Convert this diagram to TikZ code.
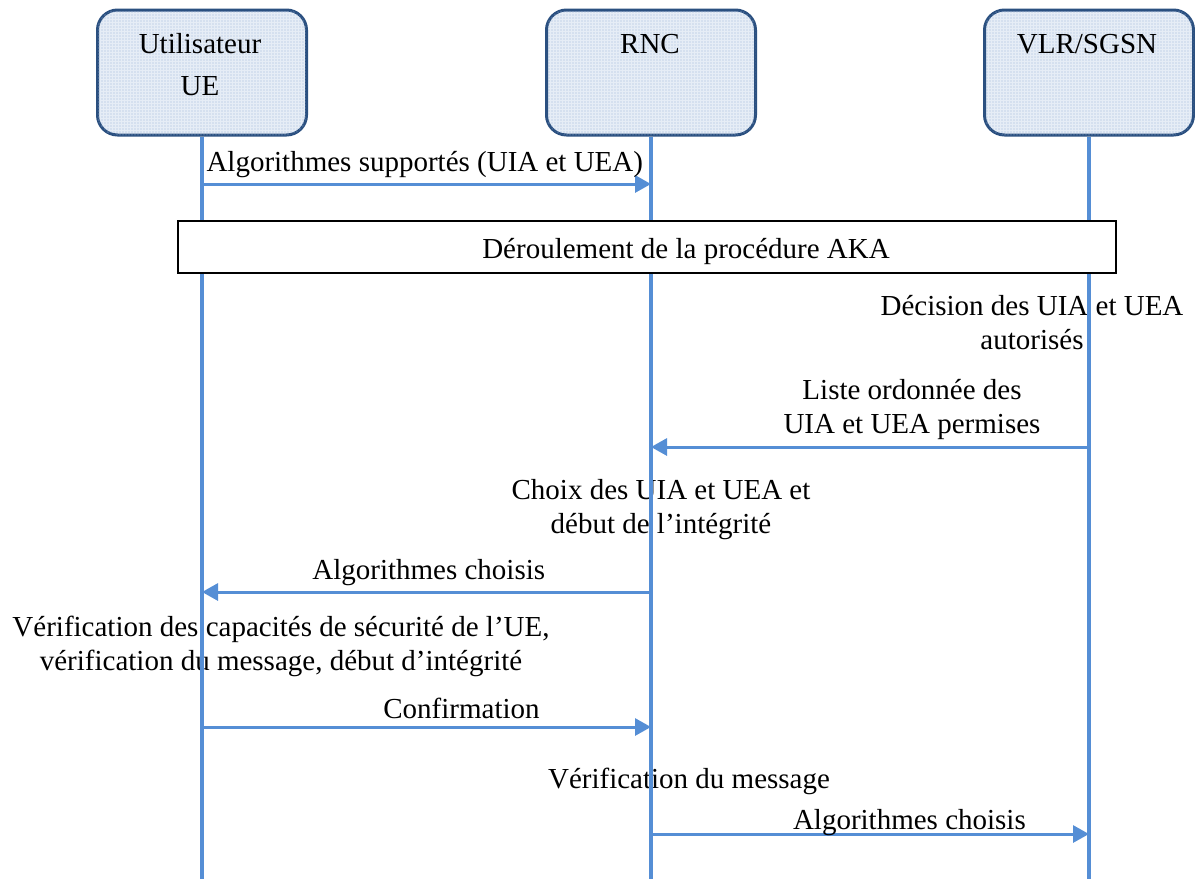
\documentclass[tikz,border=0pt]{standalone}
\usepackage{fontspec}
\setmainfont{Liberation Serif}
\usetikzlibrary{
  positioning,
  arrows.meta,
  patterns.meta
}
\definecolor{lifeline}{HTML}{558ED5}
\definecolor{boxline}{HTML}{2B5080}
\definecolor{boxfill}{HTML}{E6EDF6}
\definecolor{dotblue}{HTML}{9DB7DA}

\begin{document}
\begin{tikzpicture}[
  x=1pt, y=-1pt,
  font=\fontsize{29}{34}\selectfont,
  actor/.style={draw=boxline, line width=3pt, rounded corners=20pt, fill=boxfill,
                postaction={pattern={Dots[distance=3pt, radius=0.7pt]}, pattern color=dotblue},
                minimum width=209pt, minimum height=125pt, inner sep=0pt},
  actorname/.style={align=center, anchor=base, font=\fontsize{29}{42}\selectfont},
  life/.style={lifeline, line width=4pt},
  msg/.style={lifeline, line width=3pt, -{Triangle[length=16pt, width=17pt]}},
  note/.style={align=center, anchor=base, inner sep=0pt},
  lbl/.style={anchor=base, inner sep=0pt, yshift=13pt, text=black},
  akabox/.style={draw=black, line width=2pt, fill=white,
                 minimum width=938pt, minimum height=52pt, inner sep=0pt}
]
  \useasboundingbox (0,0) rectangle (1195,879);

  % Entities (base = last line)
  \node[actor] (ue) at (202,72.5) {};
  \node[actor] (rnc) at (651,72.5) {};
  \node[actor] (vlr) at (1089,72.5) {};
  \node[actorname] (uename) at (200,95) {Utilisateur\\UE};
  \node[actorname] (rncname) at (650,53) {RNC};
  \node[actorname] (vlrname) at (1087,53) {VLR/SGSN};

  % Local processing
  \node[note] (decision) at (1032,349) {Décision des UIA et UEA\\autorisés};
  \node[note] (liste) at (912,433) {Liste ordonnée des\\UIA et UEA permises};
  \node[note] (choix) at (661,533) {Choix des UIA et UEA et\\début de l’intégrité};
  \node[note] (verifue) at (281,670) {Vérification des capacités de sécurité de l’UE,\\vérification du message, début d’intégrité};
  \node[note] (verifrnc) at (689,788) {Vérification du message};

  % Lifelines
  \coordinate (ueend) at (ue.south |- 0,879);
  \coordinate (rncend) at (rnc.south |- 0,879);
  \coordinate (vlrend) at (vlr.south |- 0,879);
  \draw[life] (ue.south) -- (ueend);
  \draw[life] (rnc.south) -- (rncend);
  \draw[life] (vlr.south) -- (vlrend);

  % AKA
  \node[akabox] (aka) at (647,247) {};
  \node[anchor=base, inner sep=0pt] (akatext) at (686,258.5) {Déroulement de la procédure AKA};

  % Messages
  \coordinate (m1a) at (ue |- 0,184);
  \coordinate (m1b) at (rnc |- 0,184);
  \coordinate (m2a) at (vlr |- 0,447);
  \coordinate (m2b) at (rnc |- 0,447);
  \coordinate (m3a) at (rnc |- 0,592);
  \coordinate (m3b) at (ue |- 0,592);
  \coordinate (m4a) at (ue |- 0,727);
  \coordinate (m4b) at (rnc |- 0,727);
  \coordinate (m5a) at (rnc |- 0,834);
  \coordinate (m5b) at (vlr |- 0,834);

  \draw[msg] (m1a) -- (m1b)
    node[lbl, pos=0, anchor=base west, xshift=3pt] {Algorithmes supportés (UIA et UEA)};
  \draw[msg] (m2a) -- (m2b);
  \draw[msg] (m3a) -- (m3b)
    node[lbl, pos=0.495] {Algorithmes choisis};
  \draw[msg] (m4a) -- (m4b)
    node[lbl, pos=0.578, yshift=-4pt] {Confirmation};
  \draw[msg] (m5a) -- (m5b)
    node[lbl, pos=0.59, yshift=-8pt] {Algorithmes choisis};
\end{tikzpicture}
\end{document}
